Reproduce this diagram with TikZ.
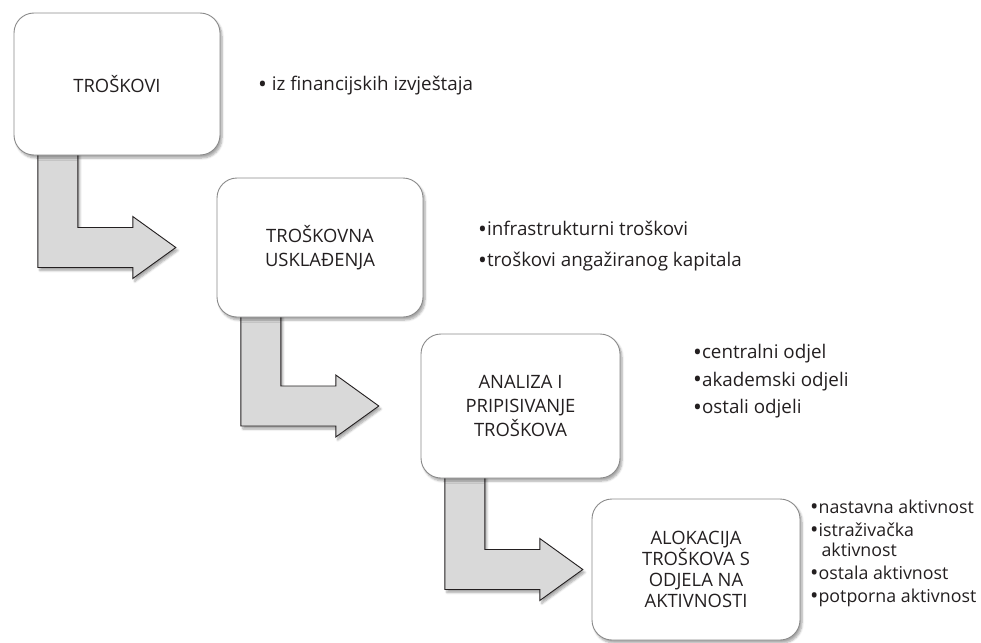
\documentclass[tikz,border=0pt]{standalone}
\usepackage{fontspec}
\setmainfont[Ligatures=NoCommon]{Open Sans}
\usetikzlibrary{shadows.blur,calc}
\definecolor{txt}{HTML}{231F20}
\definecolor{arrfill}{HTML}{D9D9D9}
\definecolor{boxline}{HTML}{8A8A8A}
\newcommand\bul{\raisebox{-0.07em}{\scalebox{1.25}{•}}}
\tikzset{
  stepbox/.style={draw=boxline, line width=0.9pt, fill=white, rounded corners=20pt,
    inner sep=0pt, align=center, text=txt,
    font=\fontsize{18.4}{24}\selectfont,
    blur shadow={shadow xshift=2pt, shadow yshift=-3pt, shadow blur steps=6, shadow opacity=35}},
  ghostbox/.style={inner sep=0pt},
  bullist/.style={anchor=west, inner sep=0pt, align=left, text=txt},
  bentarrow/.style={draw=txt, line width=0.9pt, fill=arrfill, line join=miter,
    blur shadow={shadow xshift=2pt, shadow yshift=-3pt, shadow blur steps=6, shadow opacity=35}}
}
\newcommand\bentarr[2]{%
  \draw[bentarrow] let \p1=(#1.south west), \p2=(#2.west) in
    (\x1+24pt,\y1+12pt) -- (\x1+24pt,\y2-20pt) -- (\x1+119pt,\y2-20pt)
    -- (\x1+119pt,\y2-31pt) -- (\x1+162pt,\y2) -- (\x1+119pt,\y2+31pt)
    -- (\x1+119pt,\y2+20pt) -- (\x1+64pt,\y2+20pt) -- (\x1+64pt,\y1+12pt) -- cycle;}
\begin{document}
\begin{tikzpicture}[x=1pt,y=-1pt]
\useasboundingbox (0,0) rectangle (981,642);
% box frames used to place the arrows
\node[ghostbox, minimum width=206pt, minimum height=142pt] (b1p) at (117,84) {};
\node[ghostbox, minimum width=206pt, minimum height=139pt] (b2p) at (320,247.5) {};
\node[ghostbox, minimum width=199pt, minimum height=144pt] (b3p) at (520.5,406) {};
\node[ghostbox, minimum width=208pt, minimum height=141pt] (b4p) at (696,569.5) {};
% arrows
\bentarr{b1p}{b2p}
\bentarr{b2p}{b3p}
\bentarr{b3p}{b4p}
% visible boxes
\node[stepbox, minimum width=206pt, minimum height=142pt] (b1) at (b1p) {TROŠKOVI};
\node[stepbox, minimum width=206pt, minimum height=139pt] (b2) at (b2p) {TROŠKOVNA\\USKLAĐENJA};
\node[stepbox, minimum width=199pt, minimum height=144pt] (b3) at (b3p) {ANALIZA I\\PRIPISIVANJE\\TROŠKOVA};
\node[stepbox, minimum width=208pt, minimum height=141pt, font=\fontsize{18.4}{21.2}\selectfont] (b4) at (b4p) {ALOKACIJA\\TROŠKOVA S\\ODJELA NA\\AKTIVNOSTI};
% bullet lists
\node[bullist, font=\fontsize{18.8}{21}\selectfont] (l1) at (258,86) {\bul{} iz financijskih izvještaja};
\node[bullist, font=\fontsize{18.8}{31}\selectfont] (l2) at (478,246.5) {\bul infrastrukturni troškovi\\\bul troškovi angažiranog kapitala};
\node[bullist, font=\fontsize{18.8}{27.5}\selectfont] (l3) at (693,381.5) {\bul centralni odjel\\\bul akademski odjeli\\\bul ostali odjeli};
\node[bullist, font=\fontsize{17.8}{20.5}\selectfont] (l4) at (810,553) {\bul nastavna aktivnost\\[2.5pt]\bul istraživačka\\\phantom{\bul}\,aktivnost\\[2.5pt]\bul ostala aktivnost\\[2pt]\bul potporna aktivnost};
\end{tikzpicture}
\end{document}
